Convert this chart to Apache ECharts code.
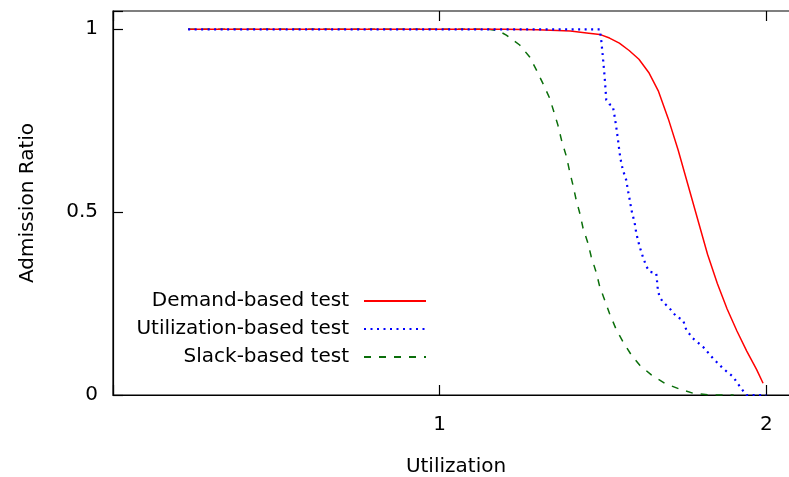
<!DOCTYPE html>
<html>
<head>
<meta charset="utf-8">
<script src="https://cdn.jsdelivr.net/npm/echarts@6/dist/echarts.min.js"></script>
<style>
  html, body { margin: 0; padding: 0; background: #fff; }
  #chart { width: 789px; height: 477px; }
</style>
</head>
<body>
<div id="chart"></div>
<script>
// Admission ratio of each schedulability test versus total utilization
const seriesNames = ['Demand-based test', 'Utilization-based test', 'Slack-based test'];

const demandUtil = [0.23, 1.0, 1.2, 1.3, 1.4, 1.45, 1.49, 1.52, 1.55, 1.58, 1.61, 1.64, 1.67, 1.70, 1.73, 1.76, 1.79, 1.82, 1.85, 1.88, 1.91, 1.94, 1.97, 1.99];
const demandRatio = [1, 1, 1, 0.999, 0.995, 0.99, 0.986, 0.976, 0.962, 0.942, 0.918, 0.882, 0.83, 0.755, 0.67, 0.575, 0.48, 0.385, 0.305, 0.235, 0.175, 0.12, 0.07, 0.032];

const utilUtil = [0.23, 1.49, 1.495, 1.50, 1.505, 1.51, 1.52, 1.53, 1.536, 1.541, 1.546, 1.551, 1.556, 1.561, 1.571, 1.576, 1.582, 1.587, 1.597, 1.602, 1.612, 1.622, 1.633, 1.643, 1.663, 1.665, 1.668, 1.673, 1.683, 1.704, 1.725, 1.745, 1.755, 1.775, 1.806, 1.837, 1.867, 1.898, 1.923, 1.939, 2.0];
const utilRatio = [1, 1, 0.967, 0.92, 0.87, 0.807, 0.795, 0.79, 0.76, 0.73, 0.697, 0.661, 0.634, 0.615, 0.588, 0.561, 0.533, 0.506, 0.47, 0.442, 0.406, 0.378, 0.351, 0.337, 0.333, 0.315, 0.287, 0.269, 0.255, 0.237, 0.214, 0.205, 0.178, 0.155, 0.132, 0.1, 0.073, 0.05, 0.018, 0, 0];

const slackUtil = [0.23, 1.15, 1.18, 1.204, 1.245, 1.275, 1.296, 1.316, 1.337, 1.362, 1.373, 1.388, 1.398, 1.408, 1.418, 1.429, 1.439, 1.454, 1.464, 1.48, 1.49, 1.505, 1.52, 1.541, 1.561, 1.587, 1.612, 1.648, 1.689, 1.735, 1.775, 1.826, 1.9];
const slackRatio = [1, 1, 0.996, 0.984, 0.957, 0.925, 0.889, 0.852, 0.811, 0.738, 0.697, 0.652, 0.611, 0.574, 0.533, 0.497, 0.456, 0.415, 0.378, 0.333, 0.296, 0.26, 0.223, 0.178, 0.146, 0.109, 0.082, 0.055, 0.032, 0.016, 0.005, 0, 0];

const xTickLabels = [1, 2];
const yTickLabels = [0, 0.5, 1];

const FONT = 'DejaVu Sans';
const FONT_SIZE = 20;
const pair = (xs, ys) => xs.map((x, i) => [x, ys[i]]);

const legendBase = {
  orient: 'vertical',
  align: 'right',
  right: 362,
  padding: 0,
  itemWidth: 62,
  itemHeight: 16,
  itemStyle: { opacity: 0 },
  textStyle: { fontFamily: FONT, fontSize: FONT_SIZE, color: '#000', padding: [0, 10, 0, 0] },
  selectedMode: false
};

const chart = echarts.init(document.getElementById('chart'), null, { renderer: 'canvas' });
chart.setOption({
  animation: false,
  backgroundColor: '#fff',
  grid: {
    left: 113, top: 11, right: -10, bottom: 82,
    outerBoundsMode: 'none',
    show: true, borderColor: '#000', borderWidth: 1.2
  },
  legend: [
    Object.assign({}, legendBase, { top: 291, data: [seriesNames[0]] }),
    Object.assign({}, legendBase, { top: 319, data: [seriesNames[1]] }),
    Object.assign({}, legendBase, { top: 347, data: [seriesNames[2]] })
  ],
  xAxis: [{
    type: 'value', min: 0, max: 2.1, interval: 1,
    name: 'Utilization', nameLocation: 'middle', nameGap: 62,
    nameTextStyle: { fontFamily: FONT, fontSize: FONT_SIZE, color: '#000' },
    axisLine: { show: true, lineStyle: { color: '#000', width: 1.2 } },
    axisTick: { show: true, inside: true, length: 10, lineStyle: { color: '#000', width: 1.2 } },
    axisLabel: {
      fontFamily: FONT, fontSize: FONT_SIZE, color: '#000', margin: 20,
      formatter: v => (xTickLabels.indexOf(v) >= 0 ? String(v) : '')
    },
    splitLine: { show: false }
  }, {
    type: 'value', min: 0, max: 2.1, interval: 1, position: 'top',
    axisLine: { show: false },
    axisTick: { show: true, inside: true, length: 10, lineStyle: { color: '#000', width: 1.2 } },
    axisLabel: { show: false },
    splitLine: { show: false }
  }],
  yAxis: [{
    type: 'value', min: 0, max: 1.05, interval: 0.5,
    name: 'Admission Ratio', nameLocation: 'middle', nameGap: 75,
    nameTextStyle: { fontFamily: FONT, fontSize: FONT_SIZE, color: '#000' },
    axisLine: { show: true, lineStyle: { color: '#000', width: 1.2 } },
    axisTick: { show: true, inside: true, length: 10, lineStyle: { color: '#000', width: 1.2 } },
    axisLabel: {
      fontFamily: FONT, fontSize: FONT_SIZE, color: '#000', margin: 15,
      padding: [3, 0, 0, 0],
      formatter: v => (yTickLabels.indexOf(v) >= 0 ? String(v) : '')
    },
    splitLine: { show: false }
  }],
  series: [{
    name: seriesNames[0], type: 'line', symbol: 'none', showSymbol: false,
    data: pair(demandUtil, demandRatio),
    lineStyle: { color: '#ff0000', width: 1.5, type: 'solid' },
    itemStyle: { color: '#ff0000' }, z: 3
  }, {
    name: seriesNames[1], type: 'line', symbol: 'none', showSymbol: false,
    data: pair(utilUtil, utilRatio),
    lineStyle: { color: '#0000ff', width: 2.2, type: [2, 4.5] },
    itemStyle: { color: '#0000ff' }, z: 4
  }, {
    name: seriesNames[2], type: 'line', symbol: 'none', showSymbol: false,
    data: pair(slackUtil, slackRatio),
    lineStyle: { color: '#0a6e0a', width: 1.5, type: [7, 8] },
    itemStyle: { color: '#0a6e0a' }, z: 2
  }]
});
</script>
</body>
</html>
